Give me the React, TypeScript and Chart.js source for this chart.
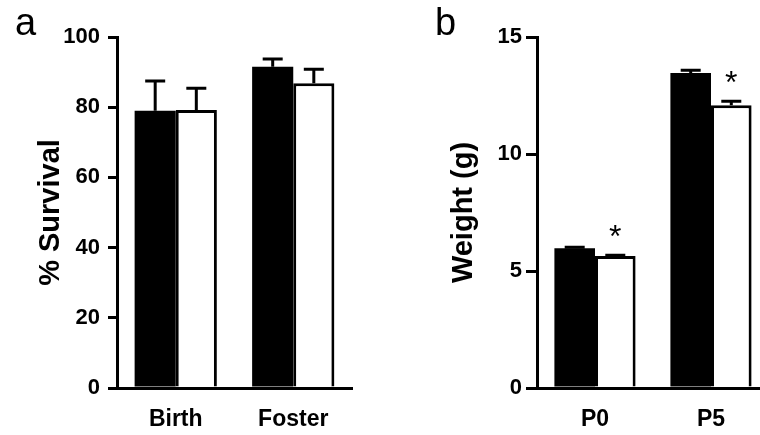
import React, { useEffect, useRef } from 'react';
import { Chart, registerables } from 'chart.js';

Chart.register(...registerables);

// ---------- data ----------
const survivalCategories = ['Birth', 'Foster'];
const survivalBlack = [79.0, 91.5];
const survivalWhite = [79.2, 86.8];
const survivalBlackErr = [8.5, 2.2];
const survivalWhiteErr = [6.2, 4.0];
const survivalTicks = [0, 20, 40, 60, 80, 100];

const weightCategories = ['P0', 'P5'];
const weightBlack = [5.97, 13.46];
const weightWhite = [5.64, 12.08];
const weightBlackErr = [0.04, 0.12];
const weightWhiteErr = [0.03, 0.17];
const weightSig = ['*', '*'];
const weightTicks = [0, 5, 10, 15];

const FONT = "'Liberation Sans', Arial, Helvetica, sans-serif";

const errorBarPlugin = {
  id: 'errorBars',
  afterDatasetsDraw(chart: any, _args: any, opts: any) {
    const { ctx } = chart;
    const yScale = chart.scales.y;
    const cap = opts.cap ?? 10;
    chart.data.datasets.forEach((ds: any, di: number) => {
      const meta = chart.getDatasetMeta(di);
      meta.data.forEach((bar: any, i: number) => {
        const v = ds.data[i];
        const err = ds.errors ? ds.errors[i] : 0;
        const base = yScale.getPixelForValue(v);
        const top = yScale.getPixelForValue(v + err);
        ctx.save();
        ctx.strokeStyle = '#000';
        ctx.lineWidth = 3;
        ctx.beginPath();
        ctx.moveTo(bar.x, base);
        ctx.lineTo(bar.x, top);
        ctx.moveTo(bar.x - cap, top);
        ctx.lineTo(bar.x + cap, top);
        ctx.stroke();
        if (ds.sig && ds.sig[i]) {
          ctx.fillStyle = '#000';
          ctx.font = `32px ${FONT}`;
          ctx.textAlign = 'center';
          ctx.textBaseline = 'alphabetic';
          ctx.fillText(ds.sig[i], bar.x, top - 8);
        }
        ctx.restore();
      });
    });
  },
};

const panelLabelPlugin = {
  id: 'panelLabel',
  afterDraw(chart: any, _args: any, opts: any) {
    if (!opts || !opts.text) return;
    const { ctx } = chart;
    ctx.save();
    ctx.fillStyle = '#000';
    ctx.font = `38px ${FONT}`;
    ctx.textAlign = 'left';
    ctx.textBaseline = 'alphabetic';
    ctx.fillText(opts.text, opts.x, opts.y);
    ctx.restore();
  },
};

function makeConfig(p: any) {
  return {
    type: 'bar',
    data: {
      labels: p.categories,
      datasets: [
        { data: p.black, errors: p.blackErr, backgroundColor: '#000', borderColor: '#000', borderWidth: 0 },
        { data: p.white, errors: p.whiteErr, sig: p.sig, backgroundColor: '#fff', borderColor: '#000', borderWidth: 3 },
      ],
    },
    options: {
      responsive: false,
      animation: false,
      devicePixelRatio: 1,
      layout: { padding: { top: 37, right: p.padRight, bottom: 0, left: 0 } },
      datasets: { bar: { categoryPercentage: 0.7, barPercentage: 1.0 } },
      plugins: {
        legend: { display: false },
        tooltip: { enabled: false },
        errorBars: { cap: 10 },
        panelLabel: { text: p.letter, x: p.letterX, y: 35 },
      },
      scales: {
        x: {
          grid: { display: false, drawTicks: false },
          border: { display: true, width: 3, color: '#000' },
          ticks: { color: '#000', font: { family: FONT, size: 23, weight: 'bold' }, padding: 18 },
          afterFit: (s: any) => { s.height = 47; },
        },
        y: {
          min: 0,
          max: p.max,
          afterBuildTicks: (s: any) => { s.ticks = p.ticks.map((v: number) => ({ value: v })); },
          afterFit: (s: any) => { s.width = p.axisX; },
          grid: { drawOnChartArea: false, drawTicks: true, tickLength: p.tickLen, tickWidth: 3, tickColor: '#000', lineWidth: 3, color: '#000' },
          border: { display: true, width: 3, color: '#000' },
          ticks: { color: '#000', font: { family: FONT, size: 22, weight: 'bold' }, padding: p.tickPad },
          title: {
            display: true,
            text: p.yTitle,
            color: '#000',
            font: { family: FONT, size: 29, weight: 'bold' },
            padding: { top: p.titlePad, bottom: 0 },
          },
        },
      },
    },
    plugins: [errorBarPlugin, panelLabelPlugin],
  };
}

function Panel(props: any) {
  const ref = useRef<HTMLCanvasElement>(null);
  useEffect(() => {
    if (!ref.current) return;
    const chart = new Chart(ref.current, makeConfig(props) as any);
    return () => chart.destroy();
  }, []);
  return (
    <canvas
      ref={ref}
      width={props.width}
      height={435}
      style={{ position: 'absolute', left: props.left, top: 0, width: props.width, height: 435 }}
    />
  );
}

export default function App() {
  return (
    <div style={{ position: 'absolute', left: 0, top: 0, width: 760, height: 435, overflow: 'hidden', background: '#fff' }}>
      <Panel
        left={0}
        width={380}
        categories={survivalCategories}
        black={survivalBlack}
        white={survivalWhite}
        blackErr={survivalBlackErr}
        whiteErr={survivalWhiteErr}
        ticks={survivalTicks}
        max={100}
        yTitle="% Survival"
        axisX={117}
        padRight={28}
        tickLen={9}
        tickPad={8}
        titlePad={34}
        letter="a"
        letterX={15}
      />
      <Panel
        left={380}
        width={400}
        categories={weightCategories}
        black={weightBlack}
        white={weightWhite}
        blackErr={weightBlackErr}
        whiteErr={weightWhiteErr}
        sig={weightSig}
        ticks={weightTicks}
        max={15}
        yTitle="Weight (g)"
        axisX={157}
        padRight={11}
        tickLen={11}
        tickPad={4}
        titlePad={67}
        letter="b"
        letterX={55}
      />
    </div>
  );
}
